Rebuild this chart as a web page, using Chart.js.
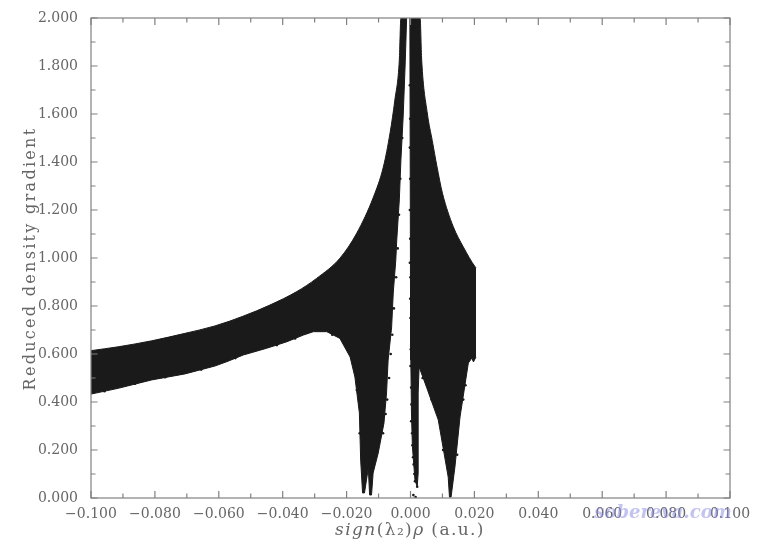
<!DOCTYPE html>
<html>
<head>
<meta charset="utf-8">
<title>Reduced density gradient</title>
<script src="https://cdn.jsdelivr.net/npm/chart.js@4"></script>
<style>
html, body { margin: 0; padding: 0; background: #fff; }
#wrap { width: 770px; height: 555px; position: relative; }
</style>
</head>
<body>
<div id="wrap"><canvas id="myChart"></canvas></div>
<script>
// tick labels
const xTickLabels = ['\u22120.100', '\u22120.080', '\u22120.060', '\u22120.040', '\u22120.020', '0.000', '0.020', '0.040', '0.060', '0.080', '0.100'];
const yTickLabels = ['0.000', '0.200', '0.400', '0.600', '0.800', '1.000', '1.200', '1.400', '1.600', '1.800', '2.000'];
const xTickValues = [-0.1, -0.09, -0.08, -0.07, -0.06, -0.05, -0.04, -0.03, -0.02, -0.01, 0, 0.01, 0.02, 0.03, 0.04, 0.05, 0.06, 0.07, 0.08, 0.09, 0.1];
const yTickValues = [0, 0.1, 0.2, 0.3, 0.4, 0.5, 0.6, 0.7, 0.8, 0.9, 1, 1.1, 1.2, 1.3, 1.4, 1.5, 1.6, 1.7, 1.8, 1.9, 2];

// outline of the left wing
const leftUpperX = [-0.1, -0.0915, -0.081, -0.0706, -0.0612, -0.0523, -0.044, -0.0356, -0.0294, -0.0221, -0.0168, -0.0116, -0.0085, -0.0064, -0.0049, -0.0035, -0.003, -0.0012];
const leftUpperY = [0.614, 0.63, 0.655, 0.686, 0.717, 0.758, 0.804, 0.86, 0.915, 0.999, 1.104, 1.254, 1.379, 1.521, 1.658, 1.825, 2, 2];
const leftLowerX = [-0.1, -0.0915, -0.081, -0.0706, -0.0612, -0.0575, -0.0523, -0.045, -0.0387, -0.0335, -0.0304, -0.0262, -0.0221, -0.0189, -0.0174, -0.016, -0.0156, -0.015, -0.0144, -0.0132, -0.0128, -0.0122, -0.0117, -0.0101, -0.0083, -0.0075, -0.007, -0.0059, -0.0054, -0.0046, -0.0043, -0.0035, -0.003, -0.0023, -0.0017, -0.0012];
const leftLowerY = [0.433, 0.457, 0.492, 0.517, 0.55, 0.568, 0.596, 0.624, 0.651, 0.679, 0.693, 0.693, 0.665, 0.5875, 0.504, 0.354, 0.158, 0.021, 0.021, 0.125, 0.0125, 0.0125, 0.104, 0.1875, 0.3125, 0.4375, 0.575, 0.713, 0.854, 0.992, 1.075, 1.242, 1.408, 1.588, 1.796, 2];

// outline of the right wing
const rightUpperX = [-0.0002, 0.003, 0.0035, 0.0053, 0.0068, 0.0083, 0.01, 0.0134, 0.0165, 0.0202, 0.0205];
const rightUpperY = [2, 2, 1.825, 1.6, 1.49, 1.38, 1.27, 1.13, 1.047, 0.964, 0.96];
const rightLowerX = [-0.0002, 0, 0.0001, 0.0003, 0.0006, 0.0014, 0.0021, 0.0024, 0.0024, 0.0027, 0.005, 0.0087, 0.0118, 0.0122, 0.0127, 0.0139, 0.0155, 0.0181, 0.0192, 0.0197, 0.0205];
const rightLowerY = [2, 0.854, 0.575, 0.354, 0.213, 0.075, 0.046, 0.104, 0.4375, 0.546, 0.4625, 0.325, 0.0875, 0.004, 0.004, 0.129, 0.3375, 0.5625, 0.583, 0.567, 0.5875];

// loose dots along the rough edges
const speckX = [-0.0002, -0.0001, -0.0002, -0.0001, -0.0002, -0.0001, -0.0002, 0, -0.0001, 0, 0.0001, 0, 0.0002, 0.0003, 0.0002, 0.0005, 0.0006, 0.0008, 0.001, 0.0012, 0.0014, 0.0009, 0.0016, 0.0021, -0.0026, -0.0032, -0.0036, -0.004, -0.0045, -0.0052, -0.0057, -0.0062, -0.0067, -0.0073, -0.0078, -0.0086, -0.0958, -0.0862, -0.0768, -0.0655, -0.0548, -0.0418, -0.0361, -0.0322, -0.0286, -0.0245, -0.0168, -0.0159, -0.0142, 0.0038, 0.0066, 0.0102, 0.0128, 0.0146, 0.0165, 0.0172];
const speckY = [1.72, 1.58, 1.46, 1.33, 1.2, 1.08, 0.98, 0.92, 0.83, 0.75, 0.62, 0.55, 0.46, 0.39, 0.32, 0.27, 0.22, 0.17, 0.14, 0.1, 0.07, 0.012, 0.004, 0.047, 1.5, 1.33, 1.18, 1.04, 0.92, 0.79, 0.68, 0.6, 0.5, 0.41, 0.35, 0.27, 0.445, 0.476, 0.503, 0.535, 0.583, 0.637, 0.665, 0.7, 0.71, 0.68, 0.45, 0.27, 0.1, 0.5, 0.41, 0.2, 0.06, 0.18, 0.41, 0.47];

const xTitleParts = [['sign', true], ['(\u03bb\u2082)', false], ['\u03c1', true], [' (a.u.)', false]];
const yTitleText = 'Reduced density gradient';
const watermarkText = 'sobereva.com';

function toPoints(xs, ys) {
	return xs.map((x, i) => ({ x: x, y: ys[i] }));
}

const INK = '#1a1a1a';
const TEXT = '#666';
const AXIS = '#808080';
const SERIF = '"DejaVu Serif", serif';

// inward ticks on all four sides, frame, axis titles and the watermark
const framePlugin = {
	id: 'frame',
	afterDatasetsDraw(chart) {
		const ctx = chart.ctx, a = chart.chartArea, sx = chart.scales.x, sy = chart.scales.y;
		ctx.save();
		ctx.strokeStyle = AXIS;
		ctx.lineWidth = 1.2;
		ctx.strokeRect(a.left, a.top, a.right - a.left, a.bottom - a.top);
		ctx.beginPath();
		xTickValues.forEach((v, i) => {
			const px = sx.getPixelForValue(v), len = i % 2 ? 4.5 : 7;
			ctx.moveTo(px, a.bottom); ctx.lineTo(px, a.bottom - len);
			ctx.moveTo(px, a.top); ctx.lineTo(px, a.top + len);
		});
		yTickValues.forEach((v, i) => {
			const py = sy.getPixelForValue(v), len = i % 2 ? 4.5 : 6.5;
			ctx.moveTo(a.left, py); ctx.lineTo(a.left + len, py);
			ctx.moveTo(a.right, py); ctx.lineTo(a.right - len, py);
		});
		ctx.stroke();
		ctx.restore();
	},
	afterDraw(chart) {
		const ctx = chart.ctx;
		ctx.save();
		ctx.fillStyle = TEXT;
		ctx.textBaseline = 'alphabetic';
		ctx.textAlign = 'left';
		ctx.letterSpacing = '1.4px';
		let total = 0;
		xTitleParts.forEach(p => {
			ctx.font = (p[1] ? 'italic ' : '') + '17px ' + SERIF;
			total += ctx.measureText(p[0]).width;
		});
		let cx = 410 - total / 2;
		xTitleParts.forEach(p => {
			ctx.font = (p[1] ? 'italic ' : '') + '17px ' + SERIF;
			ctx.fillText(p[0], cx, 535);
			cx += ctx.measureText(p[0]).width;
		});
		ctx.restore();

		ctx.save();
		ctx.translate(35, 258.5);
		ctx.rotate(-Math.PI / 2);
		ctx.font = '16px ' + SERIF;
		ctx.letterSpacing = '2.3px';
		ctx.fillStyle = TEXT;
		ctx.textAlign = 'center';
		ctx.fillText(yTitleText, 0, 0);
		ctx.restore();

		ctx.save();
		ctx.font = 'italic bold 18px ' + SERIF;
		ctx.fillStyle = 'rgba(135,135,225,0.5)';
		ctx.filter = 'blur(0.6px)';
		ctx.textAlign = 'center';
		ctx.fillText(watermarkText, 663, 518);
		ctx.restore();
	}
};

function wing(points, fill, smooth) {
	return {
		data: points,
		showLine: true,
		borderColor: INK,
		borderWidth: 1,
		pointRadius: 0,
		cubicInterpolationMode: smooth ? 'monotone' : 'default',
		tension: 0,
		fill: fill,
		backgroundColor: INK
	};
}

new Chart(document.getElementById('myChart').getContext('2d'), {
	type: 'scatter',
	data: {
		datasets: [
			wing(toPoints(leftUpperX, leftUpperY), '+1', true),
			wing(toPoints(leftLowerX, leftLowerY), false, false),
			wing(toPoints(rightUpperX, rightUpperY), '+1', true),
			wing(toPoints(rightLowerX, rightLowerY), false, false),
			{
				data: toPoints(speckX, speckY),
				showLine: false,
				pointRadius: 1.3,
				pointBorderWidth: 0,
				pointBackgroundColor: INK
			}
		]
	},
	plugins: [framePlugin],
	options: {
		responsive: true,
		maintainAspectRatio: false,
		animation: false,
		layout: { padding: { top: 18, right: 40, left: 0, bottom: 0 } },
		plugins: { legend: { display: false }, tooltip: { enabled: false } },
		scales: {
			x: {
				type: 'linear',
				min: -0.1,
				max: 0.1,
				grid: { display: false },
				border: { display: false },
				afterFit: (scale) => { scale.height = 57; },
				ticks: {
					stepSize: 0.02,
					autoSkip: false,
					maxRotation: 0,
					padding: 0,
					color: TEXT,
					font: { family: SERIF, size: 14 },
					callback: (v, i) => xTickLabels[i]
				}
			},
			y: {
				type: 'linear',
				min: 0,
				max: 2,
				grid: { display: false },
				border: { display: false },
				afterFit: (scale) => { scale.width = 91; },
				ticks: {
					stepSize: 0.2,
					autoSkip: false,
					padding: 5,
					color: TEXT,
					font: { family: SERIF, size: 14 },
					callback: (v, i) => yTickLabels[i]
				}
			}
		}
	}
});
</script>
</body>
</html>
